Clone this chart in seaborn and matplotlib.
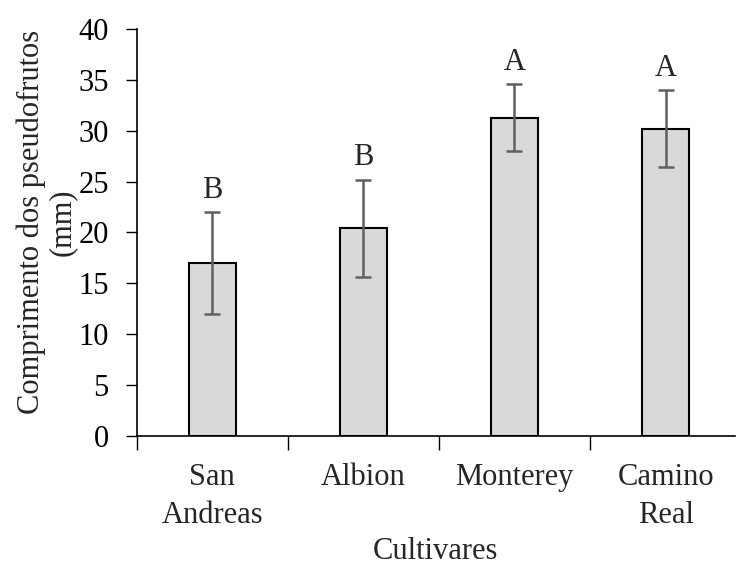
import matplotlib
matplotlib.use("Agg")
import matplotlib.pyplot as plt
import seaborn as sns
import pandas as pd
from matplotlib.ticker import FixedLocator, NullFormatter

cultivars = ["San\nAndreas", "Albion", "Monterey", "Camino\nReal"]
means = [17.0, 20.4, 31.3, 30.2]
errors = [5.0, 4.8, 3.3, 3.8]
letters = ["B", "B", "A", "A"]
y_ticks = [0, 5, 10, 15, 20, 25, 30, 35, 40]

FS = 22

sns.set_theme(style="ticks")
plt.rcParams["font.family"] = ["Liberation Serif", "DejaVu Serif"]
plt.rcParams["font.size"] = FS

df = pd.DataFrame({"cultivar": cultivars, "mean": means})

fig = plt.figure(figsize=(7.36, 5.65), dpi=100)
ax = fig.add_axes([0.1855, 0.2283, 0.813, 0.7204])

sns.barplot(data=df, x="cultivar", y="mean", ax=ax, color="#d9d9d9",
            saturation=1, width=0.31, edgecolor="black", linewidth=1.5,
            errorbar=None)

xs = [p.get_x() + p.get_width() / 2 for p in ax.patches]
ax.errorbar(xs, means, yerr=errors, fmt="none", ecolor="#606060",
            elinewidth=1.8, capsize=5.5, capthick=1.8)

for x, m, e, lab in zip(xs, means, errors, letters):
    ax.text(x, m + e + 1.4, lab, ha="center", va="baseline", fontsize=FS)

ax.set_ylim(0, 40)
ax.set_xlim(-0.5, 3.458)
ax.set_yticks(y_ticks)
ax.tick_params(axis="y", direction="out", length=8, width=1, pad=12,
               labelsize=FS, colors="black")
ax.tick_params(axis="x", which="major", length=0, pad=19.5, labelsize=FS)
ax.xaxis.set_minor_locator(FixedLocator([-0.5, 0.5, 1.5, 2.5]))
ax.xaxis.set_minor_formatter(NullFormatter())
ax.tick_params(axis="x", which="minor", direction="out", length=10, width=1,
               color="black")
for lbl in ax.get_xticklabels():
    lbl.set_linespacing(1.4)

ax.set_xlabel("Cultivares", fontsize=FS, labelpad=5)
ax.set_ylabel("Comprimento dos pseudofrutos\n(mm)", fontsize=FS,
              linespacing=1.1)
ax.yaxis.set_label_coords(-0.099, 0.526)

sns.despine(ax=ax)
for s in ["left", "bottom"]:
    ax.spines[s].set_color("black")
    ax.spines[s].set_linewidth(1.2)

fig.savefig("out.png", dpi=100)
